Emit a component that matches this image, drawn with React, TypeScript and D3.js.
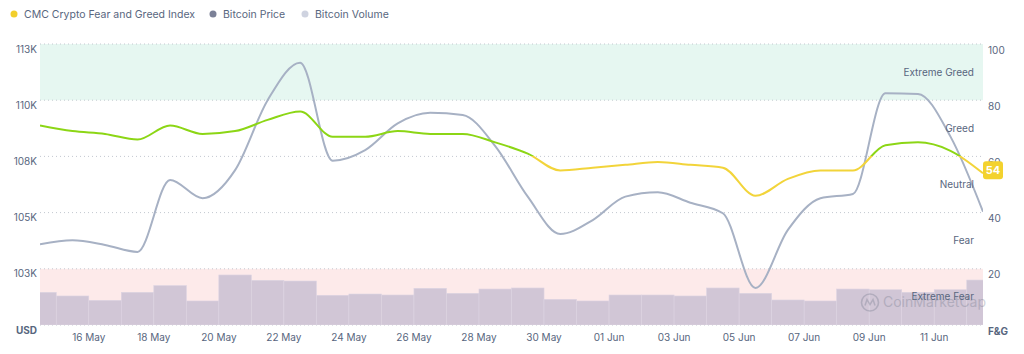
import React from 'react';
import * as d3 from 'd3';

// one point per day, plotted at midday
const days = [
  '2025-05-14', '2025-05-15', '2025-05-16', '2025-05-17', '2025-05-18', '2025-05-19',
  '2025-05-20', '2025-05-21', '2025-05-22', '2025-05-23', '2025-05-24', '2025-05-25',
  '2025-05-26', '2025-05-27', '2025-05-28', '2025-05-29', '2025-05-30', '2025-05-31',
  '2025-06-01', '2025-06-02', '2025-06-03', '2025-06-04', '2025-06-05', '2025-06-06',
  '2025-06-07', '2025-06-08', '2025-06-09', '2025-06-10', '2025-06-11', '2025-06-12',
];

const fearGreed = [71, 69, 68, 66, 71, 68, 69, 73, 76, 67, 67, 69, 68, 68, 65, 61, 55, 56, 57, 58, 57, 56, 46, 52, 55, 55, 64, 65, 62, 54];

const btcPrice = [
  103590, 103770, 103560, 103250, 106450, 105640, 106890, 110000, 111670, 107310,
  107780, 108970, 109440, 109340, 107960, 105710, 104050, 104670, 105710, 105900,
  105440, 104970, 101650, 104230, 105640, 105830, 110310, 110280, 108380, 105040,
];

// billions USD
const btcVolume = [
  46.5, 41.3, 35.1, 46.5, 56.0, 34.2, 71.2, 63.6, 62.6, 42.3,
  44.1, 42.7, 52.2, 45.1, 51.2, 52.7, 36.6, 34.2, 42.7, 42.7,
  41.3, 52.7, 45.1, 35.6, 34.2, 51.2, 50.2, 46.5, 50.2, 64.0,
];

const xTicks = [
  '2025-05-16', '2025-05-18', '2025-05-20', '2025-05-22', '2025-05-24', '2025-05-26',
  '2025-05-28', '2025-05-30', '2025-06-01', '2025-06-03', '2025-06-05', '2025-06-07',
  '2025-06-09', '2025-06-11',
];

const priceTicks = [100000, 102500, 105000, 107500, 110000, 112500];
const fgTicks = [0, 20, 40, 60, 80, 100];

const bands = [
  { label: 'Extreme Greed', from: 80, to: 100, fill: '#e6f7f1' },
  { label: 'Greed', from: 60, to: 80, fill: 'none' },
  { label: 'Neutral', from: 40, to: 60, fill: 'none' },
  { label: 'Fear', from: 20, to: 40, fill: 'none' },
  { label: 'Extreme Fear', from: 0, to: 20, fill: '#fdeaea' },
];

const legendItems = [
  { label: 'CMC Crypto Fear and Greed Index', color: '#f2cf2c' },
  { label: 'Bitcoin Price', color: '#7b8197' },
  { label: 'Bitcoin Volume', color: '#cfd3e0' },
];

const parseDay = d3.utcParse('%Y-%m-%d');

export default function App() {
  const width = 1024;
  const height = 354;
  const margin = { top: 44, right: 41, bottom: 29, left: 40 };
  const innerR = width - margin.right;
  const innerB = height - margin.bottom;

  const dayDates = days.map(d => parseDay(d) as Date);
  const noon = (d: Date) => d3.utcHour.offset(d, 12);

  const x = d3.scaleUtc()
    .domain([noon(dayDates[0]), noon(dayDates[dayDates.length - 1])])
    .range([margin.left, innerR]);

  const yFg = d3.scaleLinear().domain([0, 100]).range([innerB, margin.top]);
  const yPrice = d3.scaleLinear().domain([100000, 112500]).range([innerB, margin.top]);
  const yVol = d3.scaleLinear().domain([0, 400]).range([innerB, margin.top]);

  const fgLine = d3.line<number>()
    .x((_, i) => x(noon(dayDates[i])))
    .y(d => yFg(d))
    .curve(d3.curveMonotoneX);

  const priceLine = d3.line<number>()
    .x((_, i) => x(noon(dayDates[i])))
    .y(d => yPrice(d))
    .curve(d3.curveMonotoneX);

  const fmtK = (v: number) => `${Math.round(v / 1000)}K`;
  const fmtTick = d3.utcFormat('%d %b');
  const font = 'Inter, "Noto Sans", sans-serif';
  const textCol = '#58667e';

  const lastFg = fearGreed[fearGreed.length - 1];
  const fgStop = (v: number) => (100 - v) / 100;

  return (
    <div style={{ position: 'absolute', left: 0, top: 0, background: '#fff' }}>
      <svg width={width} height={height} style={{ display: 'block', fontFamily: font }}>
        <defs>
          <clipPath id="plot-clip">
            <rect x={margin.left} y={margin.top} width={innerR - margin.left} height={innerB - margin.top} />
          </clipPath>
          <linearGradient id="fg-grad" gradientUnits="userSpaceOnUse" x1={0} x2={0} y1={yFg(100)} y2={yFg(0)}>
            <stop offset={0} stopColor="#8cd615" />
            <stop offset={fgStop(60)} stopColor="#8cd615" />
            <stop offset={fgStop(60)} stopColor="#f2d43a" />
            <stop offset={fgStop(40)} stopColor="#f2d43a" />
            <stop offset={fgStop(40)} stopColor="#f39c3a" />
            <stop offset={1} stopColor="#f39c3a" />
          </linearGradient>
        </defs>

        {/* legend */}
        {legendItems.map((item, i) => {
          const lx = [14, 213, 305][i];
          return (
            <g key={item.label} transform={`translate(${lx}, 14)`}>
              <circle r={3.5} fill={item.color} />
              <text x={10} dy="0.35em" fontSize={10.5} fill={textCol}>{item.label}</text>
            </g>
          );
        })}

        {/* sentiment bands */}
        {bands.filter(b => b.fill !== 'none').map(b => (
          <rect key={b.label} x={margin.left} width={innerR - margin.left}
            y={yFg(b.to)} height={yFg(b.from) - yFg(b.to)} fill={b.fill} />
        ))}

        {/* grid */}
        {fgTicks.map(t => (
          <line key={t} x1={margin.left} x2={innerR} y1={yFg(t)} y2={yFg(t)}
            stroke="#c3c8d0" strokeWidth={1} strokeDasharray="1,3" />
        ))}

        <g clipPath="url(#plot-clip)">
          {/* volume bars */}
          {btcVolume.map((v, i) => {
            const x0 = x(dayDates[i]);
            const x1 = x(d3.utcDay.offset(dayDates[i], 1));
            return (
              <rect key={days[i]} x={x0} width={x1 - x0} y={yVol(v)} height={innerB - yVol(v)}
                fill="#cfc4d5" fillOpacity={0.95} stroke="#ddd4e2" strokeWidth={0.6} />
            );
          })}

          <path d={priceLine(btcPrice) || ''} fill="none" stroke="#a7b1c4" strokeWidth={2} />
          <path d={fgLine(fearGreed) || ''} fill="none" stroke="url(#fg-grad)" strokeWidth={2} />
        </g>

        {/* watermark */}
        <g opacity={0.3} transform={`translate(870, ${yFg(8)})`}>
          <circle r={8.5} fill="none" stroke="#6b7285" strokeWidth={1.6} />
          <path d="M-5,3 L-3,-3 L0,2 L3,-3 L5,3" fill="none" stroke="#6b7285" strokeWidth={1.5} />
          <text x={13} dy="0.35em" fontSize={14} fill="#6b7285">CoinMarketCap</text>
        </g>

        {/* band labels */}
        {bands.map(b => (
          <text key={b.label} x={innerR - 9} y={yFg((b.from + b.to) / 2)} dy="0.35em"
            textAnchor="end" fontSize={10} fill={textCol}>{b.label}</text>
        ))}

        {/* left price axis */}
        {priceTicks.map(t => (
          <text key={t} x={margin.left - 3} y={yPrice(t) + 5} dy="0.35em" textAnchor="end"
            fontSize={10} fill={textCol} fontWeight={t === 100000 ? 700 : 400}>
            {t === 100000 ? 'USD' : fmtK(t)}
          </text>
        ))}

        {/* right F&G axis */}
        {fgTicks.map(t => (
          <text key={t} x={innerR + 5} y={yFg(t) + 6} dy="0.35em" textAnchor="start"
            fontSize={10} fill={textCol} fontWeight={t === 0 ? 700 : 400}>
            {t === 0 ? 'F&G' : t}
          </text>
        ))}

        {/* x axis */}
        {xTicks.map(t => {
          const d = parseDay(t) as Date;
          return (
            <text key={t} x={x(d)} y={innerB + 12} dy="0.35em" textAnchor="middle"
              fontSize={10} fill={textCol}>{fmtTick(d)}</text>
          );
        })}

        {/* current value badge */}
        <g transform={`translate(${innerR}, ${yFg(lastFg) - 3})`}>
          <rect x={0} y={-9} width={20} height={18} rx={3} fill="#f3d22e" />
          <text x={10} dy="0.35em" textAnchor="middle" fontSize={11} fontWeight={700} fill="#fff">{lastFg}</text>
        </g>
      </svg>
    </div>
  );
}
